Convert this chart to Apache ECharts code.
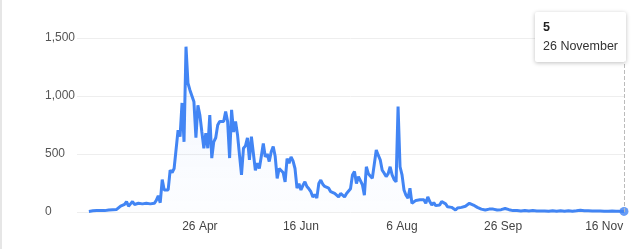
<!DOCTYPE html>
<html>
<head>
<meta charset="utf-8">
<script src="https://cdn.jsdelivr.net/npm/echarts@6/dist/echarts.min.js"></script>
<style>
  html, body { margin: 0; padding: 0; background: #fff; }
  #chart { width: 640px; height: 249px; }
</style>
</head>
<body>
<div id="chart"></div>
<script>
// Daily values, 1 March (index 0) to 26 November (index 270)
const startYear = 2020, startMonth = 2, startDay = 1;
const dailyValues = [
  // 1-15 Mar
  5, 8, 10, 8, 12, 10, 12, 15, 12, 14, 18, 15, 20, 18, 22,
  // 16 Mar - 6 Apr
  38, 50, 45, 65, 90, 50, 70, 90, 65, 60, 75, 90, 70, 60, 75, 90, 70, 80, 75, 100, 140, 80,
  // 7 Apr - 18 Apr
  280, 190, 205, 190, 360, 340, 375, 360, 705, 650, 940, 605,
  // 19 Apr - 2 May
  1425, 1110, 1050, 1000, 950, 640, 920, 835, 690, 550, 680, 550, 835, 465,
  // 3 May - 17 May
  605, 640, 750, 780, 765, 780, 865, 780, 465, 880, 690, 780, 665, 490, 320,
  // 18 May - 4 Jun
  550, 570, 640, 450, 650, 660, 360, 420, 375, 480, 590, 475, 500, 435, 520, 565, 480, 290,
  // 5 Jun - 28 Jun
  375, 360, 340, 260, 460, 420, 475, 440, 375, 205, 245, 190, 230, 260, 220, 200, 175, 130, 150, 120, 245, 275, 240, 220,
  // 29 Jun - 3 Aug
  235, 205, 175, 190, 160, 170, 130, 160, 175, 130, 160, 175, 200, 320, 350, 245, 305, 270, 235, 145, 390, 330, 320, 290, 305, 535, 490, 450, 360, 335, 305, 330, 390, 320, 280, 260,
  // 4 Aug
  910,
  // 5 Aug - 18 Aug
  390, 320, 190, 145, 120, 205, 75, 90, 100, 95, 105, 110, 105, 75,
  // 19 Aug - 17 Sep
  130, 90, 60, 80, 55, 45, 60, 90, 105, 70, 45, 55, 40, 30, 17, 35, 45, 40, 35, 50, 60, 75, 90, 60, 45, 40, 30, 25, 20, 17,
  // 18 Sep - 29 Sep
  20, 25, 30, 25, 20, 17, 15, 20, 25, 30, 28, 20,
  // 30 Sep - 26 Nov
  15, 12, 10, 12, 10, 8, 10, 12, 10, 8, 10, 12, 10, 8, 7, 8, 10, 8, 7, 6, 8, 10, 8, 7, 9, 10, 8, 6, 8, 10,
  9, 7, 8, 10, 12, 15, 12, 10, 8, 10, 9, 8, 7, 8, 10, 8, 7, 6, 8, 7, 6, 8, 7, 6, 5, 6, 7, 5
];
const xTickDays = [56, 107, 158, 209, 260];
const xTickLabels = ['26 Apr', '16 Jun', '6 Aug', '26 Sep', '16 Nov'];
const yTicks = [0, 500, 1000, 1500];
const monthNames = ['January','February','March','April','May','June','July','August','September','October','November','December'];

const lastIndex = dailyValues.length - 1;
const seriesData = dailyValues.map((v, i) => [i, v]);

function dayLabel(i) {
  const d = new Date(startYear, startMonth, startDay + i);
  return d.getDate() + ' ' + monthNames[d.getMonth()];
}

const chart = echarts.init(document.getElementById('chart'), null, { renderer: 'canvas' });
const FONT = '"Liberation Sans", Arial, Helvetica, sans-serif';

chart.setOption({
  animation: false,
  grid: { left: 77, right: 16, top: 38, bottom: 37, containLabel: false },
  xAxis: {
    type: 'value',
    min: -6,
    max: lastIndex,
    axisLine: { show: false },
    axisTick: { show: false },
    splitLine: { show: false },
    axisLabel: {
      customValues: xTickDays,
      formatter: (v) => xTickLabels[xTickDays.indexOf(Math.round(v))] || '',
      color: '#444',
      fontSize: 12,
      fontFamily: FONT,
      margin: 9
    }
  },
  yAxis: {
    type: 'value',
    min: yTicks[0],
    max: yTicks[yTicks.length - 1],
    interval: 500,
    axisLine: { show: false },
    axisTick: { show: false },
    splitLine: { lineStyle: { color: '#eeeeee', width: 1 } },
    axisLabel: {
      formatter: (v) => v.toLocaleString('en-US'),
      color: '#555',
      fontSize: 12,
      fontFamily: FONT,
      align: 'left',
      margin: 32
    }
  },
  tooltip: {
    trigger: 'axis',
    alwaysShowContent: true,
    triggerOn: 'none',
    position: () => [535, 12],
    backgroundColor: '#fff',
    borderWidth: 0,
    padding: [6, 8],
    extraCssText: 'box-shadow: 0 1px 4px rgba(0,0,0,0.25); border-radius: 2px;',
    textStyle: { fontFamily: FONT, fontSize: 12.5, color: '#333' },
    axisPointer: {
      type: 'line',
      lineStyle: { color: '#bbb', width: 1, type: 'dashed' }
    },
    formatter: (params) => {
      const p = params[0];
      return '<div style="line-height:19px"><b style="color:#222">' + p.value[1] + '</b><br>' + dayLabel(p.value[0]) + '</div>';
    }
  },
  series: [
    {
      type: 'line',
      data: seriesData,
      showSymbol: false,
      symbol: 'none',
      lineStyle: { color: '#4285f4', width: 3 },
      itemStyle: { color: '#4285f4' },
      areaStyle: {
        color: new echarts.graphic.LinearGradient(0, 0, 0, 1, [
          { offset: 0, color: 'rgba(66,133,244,0.10)' },
          { offset: 1, color: 'rgba(66,133,244,0.02)' }
        ])
      },
      emphasis: { disabled: true },
      z: 2
    },
    {
      type: 'scatter',
      data: [seriesData[lastIndex]],
      symbol: 'circle',
      symbolSize: 9,
      itemStyle: { color: '#4285f4' },
      emphasis: { disabled: true },
      tooltip: { show: false },
      z: 5
    }
  ],
  graphic: [
    { type: 'rect', left: 0, top: 0, shape: { width: 2, height: 249 }, style: { fill: '#e6e6e6' }, silent: true }
  ]
});

chart.dispatchAction({ type: 'showTip', seriesIndex: 0, dataIndex: lastIndex });
</script>
</body>
</html>
